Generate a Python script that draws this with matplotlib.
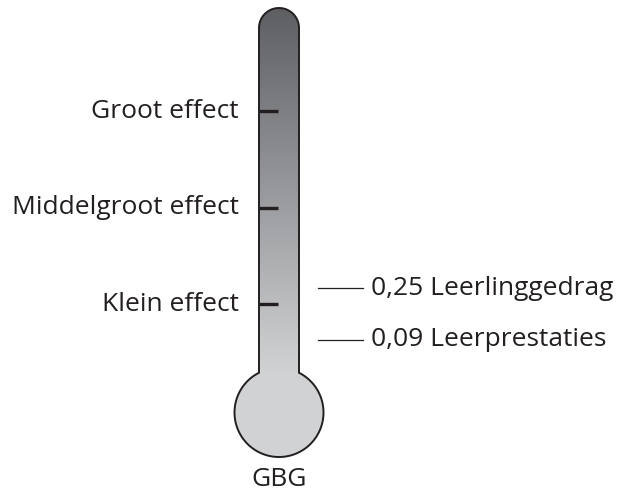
import numpy as np
import matplotlib
matplotlib.use("Agg")
import matplotlib.pyplot as plt
from matplotlib.path import Path
from matplotlib.patches import PathPatch
from matplotlib.colors import LinearSegmentedColormap

# effect size benchmarks (Cohen's d) shown as ticks on the tube
effect_labels = ["Klein effect", "Middelgroot effect", "Groot effect"]
effect_values = [0.2, 0.5, 0.8]

# measured effects of the programme
result_labels = ["Leerlinggedrag", "Leerprestaties"]
result_values = [0.25, 0.09]

bulb_label = "GBG"

plt.rcParams["font.family"] = ["Open Sans", "DejaVu Sans"]
ink = "#231f20"
fs = 19

fig = plt.figure(figsize=(6.19, 4.95), dpi=100)
ax = fig.add_axes([0, 0, 1, 1])
ax.set_xlim(0, 619)
ax.set_ylim(495, 0)
ax.axis("off")

# thermometer outline (pixel-like units, y downwards)
tube_l, tube_r, tube_top = 259, 299, 8
half = (tube_r - tube_l) / 2
cx = (tube_l + tube_r) / 2
cap_y = tube_top + half
bulb_cy, bulb_r = 412.5, 44.5
dy = np.sqrt(bulb_r**2 - half**2)
join_y = bulb_cy - dy

t_cap = np.linspace(np.pi, 0, 60)
cap = np.column_stack([cx + half * np.cos(t_cap), cap_y - half * np.sin(t_cap)])
t0 = np.arccos(half / bulb_r)
t_bulb = np.linspace(t0, np.pi - t0 - 2 * np.pi, 200)
bulb = np.column_stack([cx + bulb_r * np.cos(t_bulb), bulb_cy - bulb_r * np.sin(t_bulb)])
pts = np.vstack([[tube_l, join_y], cap, [tube_r, join_y], bulb, [tube_l, join_y]])
outline = Path(pts, closed=True)

cmap = LinearSegmentedColormap.from_list("thermo", ["#5e5f63", "#d1d2d4"])
ys = np.linspace(tube_top, bulb_cy + bulb_r, 400)
grad = np.clip((ys - tube_top) / (join_y - tube_top), 0, 1)[:, None]
img = ax.imshow(grad, cmap=cmap, vmin=0, vmax=1, aspect="auto",
                extent=[cx - bulb_r, cx + bulb_r, bulb_cy + bulb_r, tube_top],
                interpolation="bilinear", zorder=1)
patch = PathPatch(outline, facecolor="none", edgecolor=ink, lw=1.4, zorder=3)
ax.add_patch(patch)
img.set_clip_path(patch)
ax.set_xlim(0, 619)
ax.set_ylim(495, 0)

ax.text(cx, 480, bulb_label, ha="center", va="center", fontsize=fs, color=ink)

# value axis for the effect sizes
av = ax.twinx()
av.set_ylim(-0.394, 1.147)
av.axis("off")

for lab, v in zip(effect_labels, effect_values):
    av.plot([tube_l, 278], [v, v], color=ink, lw=2.4, solid_capstyle="butt", zorder=4)
    av.text(239, v, lab, ha="right", va="center", fontsize=fs, color=ink)

for lab, v in zip(result_labels, result_values):
    av.plot([318, 363], [v, v], color=ink, lw=0.9, zorder=4)
    av.text(371, v, f"{v:.2f}".replace(".", ",") + " " + lab,
            ha="left", va="center", fontsize=fs, color=ink)

fig.savefig("out.png", dpi=100)
